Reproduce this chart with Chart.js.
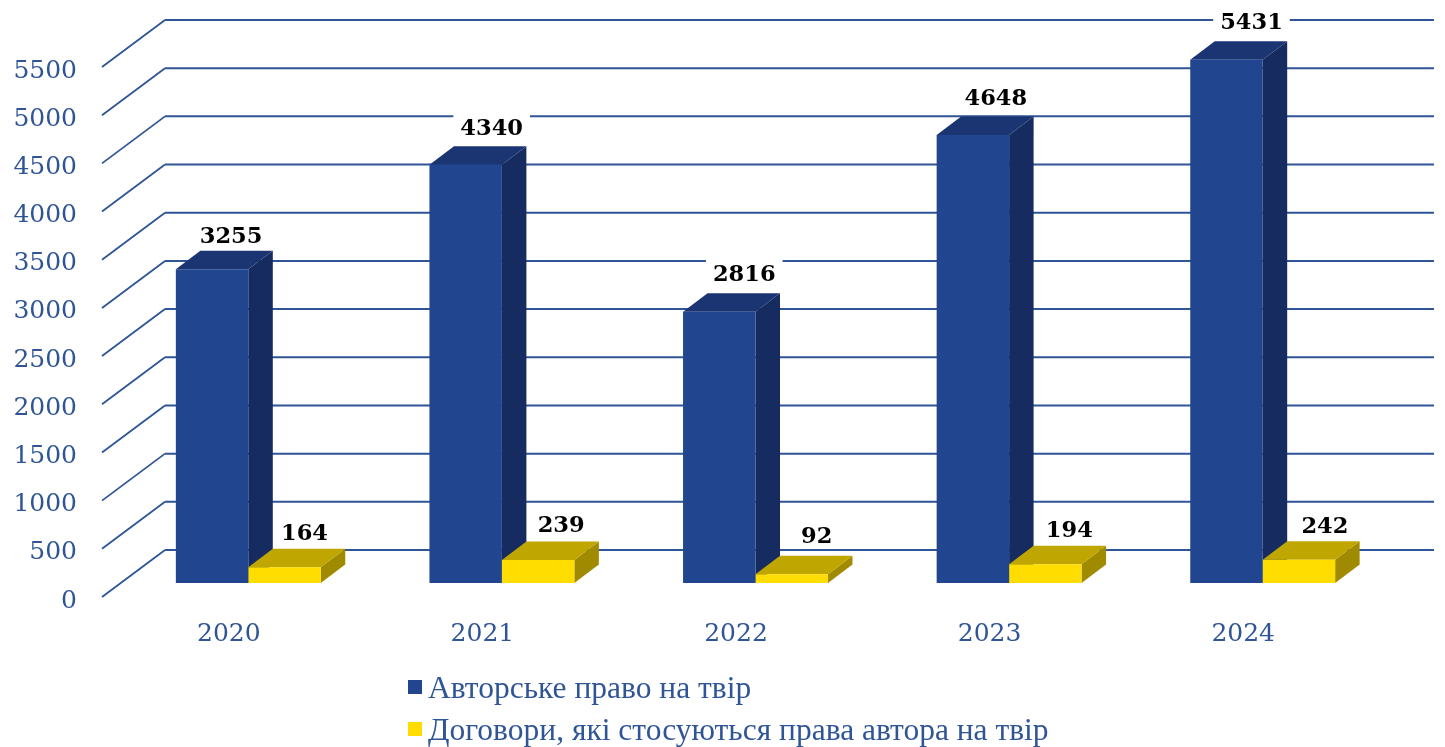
<!DOCTYPE html>
<html>
<head>
<meta charset="utf-8">
<title>Chart</title>
<script src="https://cdn.jsdelivr.net/npm/chart.js@4"></script>
<style>
  html, body { margin: 0; padding: 0; background: #fff; }
  #wrap { position: relative; width: 1445px; height: 747px; }
</style>
</head>
<body>
<div id="wrap"><canvas id="chart" width="1445" height="747"></canvas></div>
<script>
const years = ['2020', '2021', '2022', '2023', '2024'];
const copyrightWorks = [3255, 4340, 2816, 4648, 5431];
const authorContracts = [164, 239, 92, 194, 242];
const seriesNames = ['Авторське право на твір', 'Договори, які стосуються права автора на твір'];

const TEXT = '#2F5597';
const GRID = '#2F5597';
const SERIF = '"DejaVu Serif", serif';

// the scale sits 4px low so tick labels land like the old-style digits in the picture
const LIFT = 4;
// bars stand part way into the floor, wall is further back
const BAR_SHIFT = { x: 19.5, y: -14 - LIFT };
const BAR_DEPTH = { x: 24.5, y: -18.5 };
const WALL = { x: 63, y: -47 };
const WALL_RIGHT = 1434;

// value labels were placed by hand in the original, per series / per year
const labelNudgeX = [[0, 7, 6, 4, 6], [1, 4, 6, 5, 7]];
const labelNudgeY = [[2, -2, -2, -2, -2], [1, 0, -3, 1, 1]];

const faces = [
  { front: '#21468F', top: '#1B3573', side: '#162C60' },
  { front: '#FFDD00', top: '#BFA600', side: '#A08A00' },
];

function poly(ctx, pts, fill) {
  ctx.fillStyle = fill;
  ctx.beginPath();
  pts.forEach(([x, y], i) => (i ? ctx.lineTo(x, y) : ctx.moveTo(x, y)));
  ctx.closePath();
  ctx.fill();
}

const bars3d = {
  id: 'bars3d',
  beforeDatasetsDraw(chart) {
    const { ctx, scales } = chart;
    const left = chart.chartArea.left;

    // oblique floor/wall grid, one line per tick
    ctx.save();
    ctx.strokeStyle = GRID;
    scales.y.ticks.forEach(t => {
      const y = scales.y.getPixelForValue(t.value) - LIFT;
      ctx.lineWidth = 1.8;
      ctx.beginPath();
      ctx.moveTo(left, y);
      ctx.lineTo(left + WALL.x, y + WALL.y);
      ctx.stroke();
      ctx.lineWidth = 2;
      ctx.beginPath();
      ctx.moveTo(left + WALL.x, y + WALL.y);
      ctx.lineTo(WALL_RIGHT, y + WALL.y);
      ctx.stroke();
    });
    ctx.restore();

    // top + side faces, blue first so the yellow lid covers the foot of the blue side
    chart.data.datasets.forEach((ds, di) => {
      chart.getDatasetMeta(di).data.forEach(bar => {
        const x0 = bar.x - bar.width / 2 + BAR_SHIFT.x;
        const x1 = bar.x + bar.width / 2 + BAR_SHIFT.x;
        const top = bar.y + BAR_SHIFT.y;
        const base = bar.base + BAR_SHIFT.y;
        const dx = BAR_DEPTH.x, dy = BAR_DEPTH.y;
        poly(ctx, [[x1, top], [x1 + dx, top + dy], [x1 + dx, base + dy], [x1, base]], faces[di].side);
        poly(ctx, [[x0, top], [x0 + dx, top + dy], [x1 + dx, top + dy], [x1, top]], faces[di].top);
      });
    });

    ctx.save();
    ctx.translate(BAR_SHIFT.x, BAR_SHIFT.y);
  },
  afterDatasetsDraw(chart) {
    const { ctx } = chart;
    ctx.restore();

    // value labels
    ctx.save();
    ctx.font = 'bold 22.5px ' + SERIF;
    ctx.textAlign = 'center';
    ctx.textBaseline = 'middle';
    chart.data.datasets.forEach((ds, di) => {
      chart.getDatasetMeta(di).data.forEach((bar, i) => {
        const label = String(ds.data[i]);
        const x = bar.x + BAR_SHIFT.x + 19 + labelNudgeX[di][i];
        const y = bar.y + BAR_SHIFT.y - 34 + labelNudgeY[di][i];
        const w = ctx.measureText(label).width + 14;
        ctx.fillStyle = '#fff';
        ctx.fillRect(x - w / 2, y - 17, w, 27);
        ctx.fillStyle = '#000';
        ctx.fillText(label, x, y);
      });
    });
    ctx.restore();

    // legend, stacked under the axis
    ctx.save();
    ctx.font = '31.5px "Liberation Serif", serif';
    ctx.textBaseline = 'middle';
    chart.data.datasets.forEach((ds, di) => {
      const y = 687 + di * 42;
      ctx.fillStyle = ds.backgroundColor;
      ctx.fillRect(408, y - 7, 14, 14);
      ctx.fillStyle = TEXT;
      ctx.fillText(ds.label, 428, y + 3);
    });
    ctx.restore();
  },
};

new Chart(document.getElementById('chart'), {
  type: 'bar',
  data: {
    labels: years,
    datasets: [
      { label: seriesNames[0], data: copyrightWorks, backgroundColor: faces[0].front, clip: false },
      { label: seriesNames[1], data: authorContracts, backgroundColor: faces[1].front, clip: false },
    ],
  },
  options: {
    responsive: false,
    animation: false,
    categoryPercentage: 0.5714,
    barPercentage: 1,
    layout: { padding: { top: 71, right: 75, left: 0, bottom: 0 } },
    plugins: { legend: { display: false }, tooltip: { enabled: false } },
    scales: {
      x: {
        grid: { display: false },
        border: { display: false },
        ticks: { color: TEXT, font: { family: SERIF, size: 25 }, padding: 10, maxRotation: 0 },
        afterFit: s => { s.height = 146; },
      },
      y: {
        min: 0,
        max: 5500,
        grid: { display: false },
        border: { display: false },
        ticks: { stepSize: 500, color: TEXT, font: { family: SERIF, size: 25 }, padding: 17, callback: v => String(v) },
        afterFit: s => { s.width = 102; },
      },
    },
  },
  plugins: [bars3d],
});
</script>
</body>
</html>
